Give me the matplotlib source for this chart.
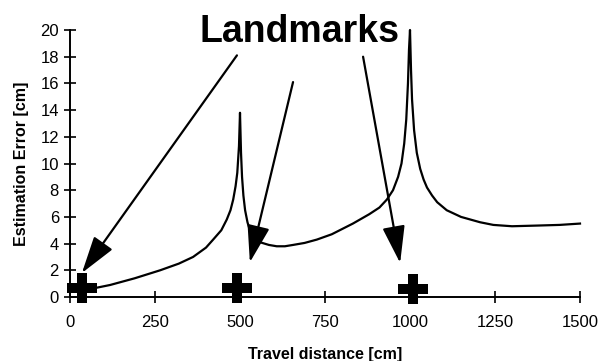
import matplotlib
matplotlib.use("Agg")
import matplotlib.pyplot as plt

plt.rcParams['font.family'] = ['Liberation Sans', 'DejaVu Sans']

# Estimation error along the travelled path
dist = [29, 60, 118, 190, 265, 320, 362, 400, 421, 445, 461, 472, 480, 487,
        492, 497, 500, 503, 506, 510, 515, 522, 529, 545, 559, 585, 608, 632,
        656, 690, 726, 770, 832, 880, 910, 932, 950, 965, 975, 983, 989, 994,
        997, 1000, 1003, 1006, 1012, 1020, 1030, 1040, 1050, 1065, 1080, 1108,
        1150, 1206, 1245, 1300, 1373, 1440, 1500]
error = [0.37, 0.6, 0.9, 1.4, 2.0, 2.5, 3.0, 3.7, 4.3, 5.0, 5.8, 6.5, 7.3, 8.3,
         9.3, 11.3, 13.8, 10.8, 9.0, 7.6, 6.5, 5.6, 5.0, 4.4, 4.1, 3.9, 3.8, 3.8,
         3.9, 4.05, 4.3, 4.7, 5.5, 6.2, 6.7, 7.3, 8.0, 9.0, 10.0, 11.5, 13.3, 16.0,
         18.5, 20.0, 17.0, 14.8, 12.5, 10.8, 9.6, 8.8, 8.2, 7.6, 7.1, 6.5,
         6.0, 5.6, 5.4, 5.3, 5.35, 5.4, 5.5]

# landmark positions
landmark_x = [35, 491, 1010]
landmark_y = [0.67, 0.67, 0.62]

# arrows from the "Landmarks" label: (start, tip)
arrows = [((491, 18.1), (35, 1.8)),
          ((656, 16.1), (529, 2.6)),
          ((862, 18.0), (971, 2.55))]

xticks = [0, 250, 500, 750, 1000, 1250, 1500]
yticks = list(range(0, 21, 2))

fig = plt.figure(figsize=(5.99, 3.61), dpi=100)
ax = fig.add_axes([70 / 599, 64 / 361, 510 / 599, 267 / 361])

ax.plot(dist, error, color='black', lw=1.6, clip_on=False, zorder=3)
ax.plot(landmark_x, landmark_y, linestyle='none', marker='P', markersize=21,
        color='black', markeredgewidth=0, clip_on=False, zorder=4)

for (x0, y0), (x1, y1) in arrows:
    ax.annotate('', xy=(x1, y1), xytext=(x0, y0),
                arrowprops=dict(arrowstyle='-|>,head_length=2.3,head_width=0.7',
                                mutation_scale=10, color='black', lw=1.6,
                                shrinkA=0, shrinkB=0),
                annotation_clip=False, zorder=5)

fig.text(300 / 599, 1 - 42 / 361, 'Landmarks', ha='center', va='baseline',
         fontsize=27, fontweight='bold')

ax.set_xlim(0, 1500)
ax.set_ylim(0, 20)
ax.set_xticks(xticks)
ax.set_yticks(yticks)
for side in ['top', 'right']:
    ax.spines[side].set_visible(False)
for side in ['left', 'bottom']:
    ax.spines[side].set_linewidth(1.4)
ax.tick_params(direction='inout', length=8, width=1.2, labelsize=12, pad=4)
ax.tick_params(axis='x', pad=9)

ax.set_xlabel('Travel distance [cm]', fontsize=11.5, fontweight='bold', labelpad=12)
ax.set_ylabel('Estimation Error [cm]', fontsize=11.5, fontweight='bold', labelpad=8)

fig.savefig('out.png', dpi=100)
